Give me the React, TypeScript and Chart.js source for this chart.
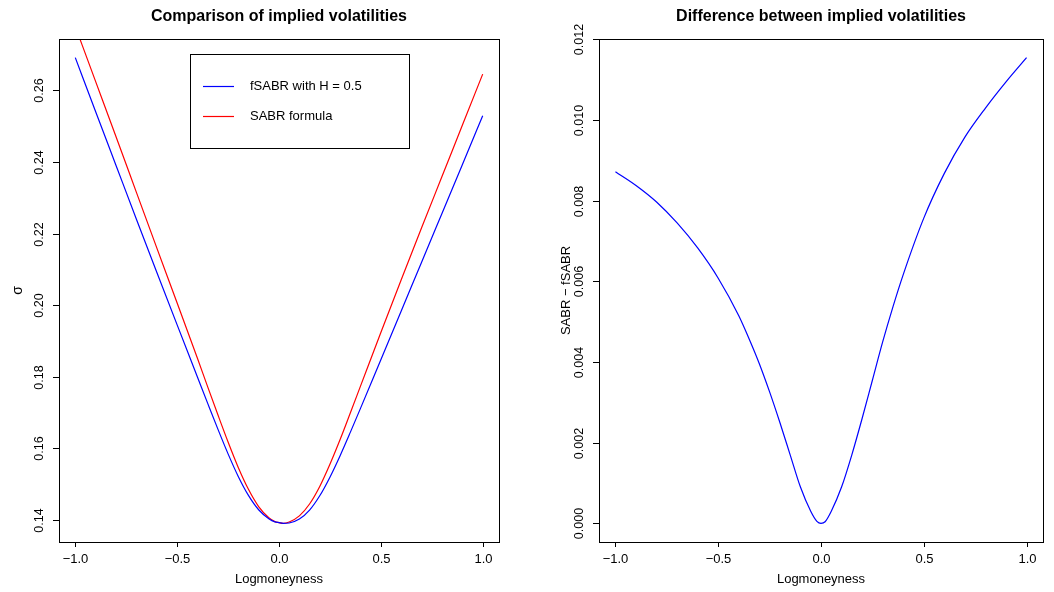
import React, { useEffect, useRef } from "react";
import { Chart, registerables } from "chart.js";

Chart.register(...registerables);

// ---- data ----
const logMoneyness = [
  -1.0, -0.9, -0.8, -0.7, -0.6, -0.5, -0.4, -0.35, -0.3, -0.25, -0.2, -0.15, -0.1, -0.05, -0.02, 0.0,
  0.02, 0.05, 0.1, 0.15, 0.2, 0.25, 0.3, 0.35, 0.4, 0.5, 0.6, 0.7, 0.8, 0.9, 1.0,
];
const fsabrVol = [
  0.2691, 0.254, 0.239, 0.224, 0.2092, 0.1945, 0.1799, 0.1726, 0.1654, 0.1585, 0.1522, 0.1469, 0.1429, 0.1404, 0.1395, 0.1393,
  0.1391, 0.1392, 0.1403, 0.1428, 0.1468, 0.152, 0.158, 0.1645, 0.1712, 0.1848, 0.1984, 0.212, 0.2256, 0.2392, 0.2529,
];
const sabrVol = [
  0.2778, 0.2624, 0.247, 0.2315, 0.216, 0.2006, 0.1851, 0.1772, 0.1694, 0.1618, 0.1547, 0.1486, 0.1438, 0.1407, 0.1396, 0.1393,
  0.1391, 0.1395, 0.1412, 0.1445, 0.1494, 0.1556, 0.1625, 0.1699, 0.1774, 0.1924, 0.2071, 0.2216, 0.2359, 0.2502, 0.2645,
];
const volDiff = [
  0.00872, 0.00838, 0.00797, 0.00745, 0.00683, 0.00608, 0.00515, 0.00458, 0.00396, 0.00326, 0.0025, 0.0017, 0.0009, 0.0003, 0.00005, 0.0,
  0.00004, 0.0003, 0.0009, 0.0017, 0.0026, 0.00355, 0.0045, 0.00537, 0.00617, 0.00757, 0.00868, 0.00958, 0.0103, 0.01095, 0.01155,
];

const xTicks = [-1, -0.5, 0, 0.5, 1];
const xTickLabels = ["\u22121.0", "\u22120.5", "0.0", "0.5", "1.0"];
const leftYTicks = [0.14, 0.16, 0.18, 0.2, 0.22, 0.24, 0.26];
const leftYTickLabels = ["0.14", "0.16", "0.18", "0.20", "0.22", "0.24", "0.26"];
const rightYTicks = [0, 0.002, 0.004, 0.006, 0.008, 0.01, 0.012];
const rightYTickLabels = ["0.000", "0.002", "0.004", "0.006", "0.008", "0.010", "0.012"];

const FONT = "'Liberation Sans', Arial, Helvetica, sans-serif";

const rBasePlugin = {
  id: "rBase",
  afterDraw(chart: any, _a: any, opts: any) {
    const ctx = chart.ctx as CanvasRenderingContext2D;
    const { left, right, top, bottom } = chart.chartArea;
    const xs = chart.scales.x;
    const ys = chart.scales.y;
    ctx.save();
    ctx.strokeStyle = "#000";
    ctx.fillStyle = "#000";
    ctx.lineWidth = 1;
    // box
    ctx.strokeRect(Math.round(left) + 0.5, Math.round(top) + 0.5, Math.round(right - left), Math.round(bottom - top));
    // x ticks
    ctx.font = `13px ${FONT}`;
    ctx.textAlign = "center";
    ctx.textBaseline = "middle";
    const xt: number[] = opts.xTicks;
    const xl: string[] = opts.xTickLabels;
    xt.forEach((t, i) => {
      const px = Math.round(xs.getPixelForValue(t)) + 0.5;
      ctx.beginPath();
      ctx.moveTo(px, bottom);
      ctx.lineTo(px, bottom + 5);
      ctx.stroke();
      ctx.fillText(xl[i], px, bottom + 17);
    });
    // x title
    ctx.fillText(opts.xTitle, (left + right) / 2, bottom + 37);
    // y ticks
    const yt: number[] = opts.yTicks;
    const yl: string[] = opts.yTickLabels;
    yt.forEach((t, i) => {
      const py = Math.round(ys.getPixelForValue(t)) + 0.5;
      ctx.beginPath();
      ctx.moveTo(left, py);
      ctx.lineTo(left - 6, py);
      ctx.stroke();
      ctx.save();
      ctx.translate(left - 19, py);
      ctx.rotate(-Math.PI / 2);
      ctx.font = `12.5px ${FONT}`;
      ctx.fillText(yl[i], 0, 0);
      ctx.restore();
    });
    // y title
    ctx.save();
    ctx.translate(opts.yTitleX, (top + bottom) / 2);
    ctx.rotate(-Math.PI / 2);
    ctx.font = `${opts.yTitleSize}px ${FONT}`;
    ctx.fillText(opts.yTitle, 0, 0);
    ctx.restore();
    // main title
    ctx.font = `bold 16px ${FONT}`;
    ctx.fillText(opts.title, (left + right) / 2, 17);
    // legend
    if (opts.legend) {
      const lg = opts.legend;
      ctx.strokeRect(lg.x + 0.5, lg.y + 0.5, lg.w, lg.h);
      ctx.font = `13px ${FONT}`;
      ctx.textAlign = "left";
      chart.data.datasets.forEach((ds: any, i: number) => {
        const y = lg.y + lg.firstRow + i * lg.rowGap + 0.5;
        ctx.strokeStyle = ds.borderColor;
        ctx.lineWidth = 1.2;
        ctx.beginPath();
        ctx.moveTo(lg.x + 13, y);
        ctx.lineTo(lg.x + 44, y);
        ctx.stroke();
        ctx.fillStyle = "#000";
        ctx.fillText(ds.label, lg.x + 60, y);
      });
    }
    ctx.restore();
  },
};

function toPoints(ys: number[]) {
  return logMoneyness.map((x, i) => ({ x, y: ys[i] }));
}

function makeChart(canvas: HTMLCanvasElement, cfg: any) {
  return new Chart(canvas, {
    type: "line",
    data: { datasets: cfg.datasets },
    options: {
      animation: false,
      responsive: false,
      devicePixelRatio: 1,
      layout: { padding: cfg.padding },
      scales: {
        x: { type: "linear", min: -1.08, max: 1.08, display: false },
        y: { type: "linear", min: cfg.yMin, max: cfg.yMax, display: false },
      },
      plugins: {
        legend: { display: false },
        tooltip: { enabled: false },
        rBase: cfg.rBase,
      } as any,
    },
    plugins: [rBasePlugin as any],
  });
}

export default function App() {
  const leftRef = useRef<HTMLCanvasElement>(null);
  const rightRef = useRef<HTMLCanvasElement>(null);

  useEffect(() => {
    const lineStyle = { pointRadius: 0, borderWidth: 1.2, cubicInterpolationMode: "monotone", fill: false };
    const c1 = makeChart(leftRef.current!, {
      datasets: [
        { label: "fSABR with H = 0.5", data: toPoints(fsabrVol), borderColor: "#0000FF", ...lineStyle },
        { label: "SABR formula", data: toPoints(sabrVol), borderColor: "#FF0000", ...lineStyle },
      ],
      padding: { left: 59, right: 28, top: 39, bottom: 50 },
      yMin: 0.1339,
      yMax: 0.2743,
      rBase: {
        title: "Comparison of implied volatilities",
        xTitle: "Logmoneyness",
        yTitle: "\u03c3",
        yTitleX: 18,
        yTitleSize: 14,
        xTicks,
        xTickLabels,
        yTicks: leftYTicks,
        yTickLabels: leftYTickLabels,
        legend: { x: 190, y: 54, w: 219, h: 94, firstRow: 32, rowGap: 30 },
      },
    });
    const c2 = makeChart(rightRef.current!, {
      datasets: [
        { label: "SABR \u2212 fSABR", data: toPoints(volDiff), borderColor: "#0000FF", ...lineStyle },
      ],
      padding: { left: 72, right: 11, top: 39, bottom: 50 },
      yMin: -0.000462,
      yMax: 0.012012,
      rBase: {
        title: "Difference between implied volatilities",
        xTitle: "Logmoneyness",
        yTitle: "SABR \u2212 fSABR",
        yTitleX: 39,
        yTitleSize: 13,
        xTicks,
        xTickLabels,
        yTicks: rightYTicks,
        yTickLabels: rightYTickLabels,
        legend: null,
      },
    });
    return () => {
      c1.destroy();
      c2.destroy();
    };
  }, []);

  return (
    <div style={{ position: "absolute", left: 0, top: 0, width: 1054, height: 592, background: "#fff" }}>
      <canvas ref={leftRef} width={527} height={592} style={{ position: "absolute", left: 0, top: 0, width: 527, height: 592 }} />
      <canvas ref={rightRef} width={527} height={592} style={{ position: "absolute", left: 527, top: 0, width: 527, height: 592 }} />
    </div>
  );
}
